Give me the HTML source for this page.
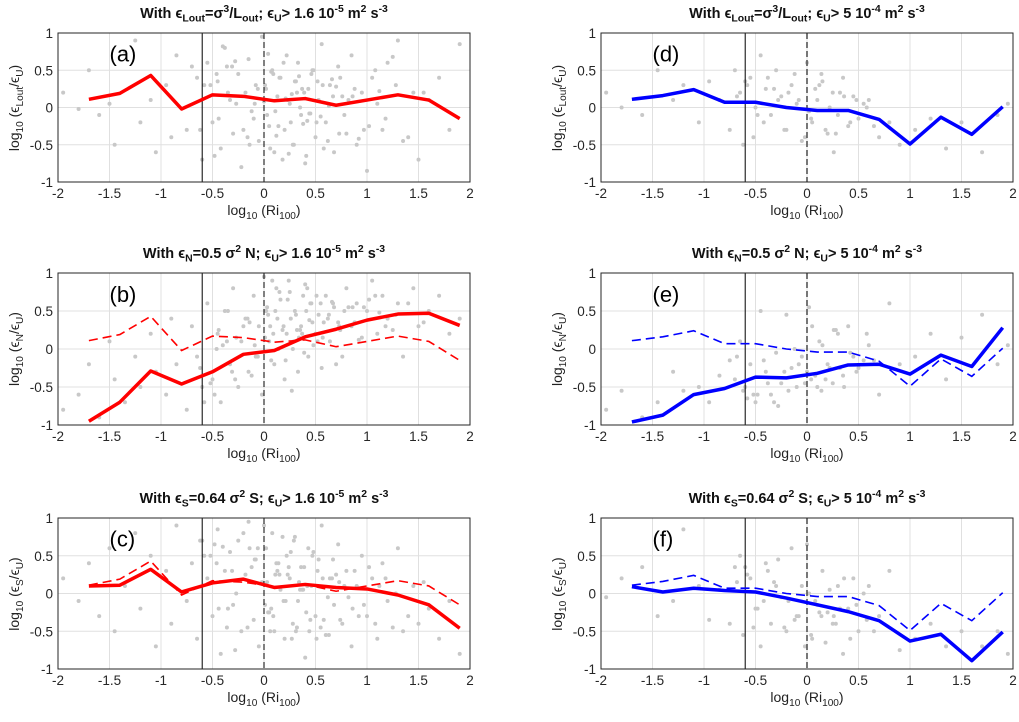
<!DOCTYPE html>
<html><head><meta charset="utf-8">
<style>
body{margin:0;background:#fff;font-family:"Liberation Sans",Arial,sans-serif;}
#wrap{position:relative;width:1019px;height:722px;overflow:hidden;}
svg{position:absolute;left:0;top:0;}
.t{position:absolute;font-weight:bold;font-size:14.5px;white-space:nowrap;transform:translateX(-50%);color:#111;}
.xl{position:absolute;font-size:14px;white-space:nowrap;transform:translateX(-50%);color:#222;}
.yl{position:absolute;font-size:14px;white-space:nowrap;transform:translate(-50%,-50%) rotate(-90deg);color:#222;}
sub,sup{font-size:72%;}
</style></head><body>
<div id="wrap">
<svg id="svg" width="1019" height="722"></svg>
</div>
<script>
const binsX=[-1.7,-1.4,-1.1,-0.8,-0.5,-0.2,0.1,0.4,0.7,1.0,1.3,1.6,1.9];
const serA=[0.11,0.19,0.43,-0.02,0.17,0.15,0.09,0.12,0.03,0.10,0.17,0.10,-0.15];
const serB=[-0.95,-0.70,-0.29,-0.46,-0.30,-0.07,-0.02,0.16,0.26,0.38,0.46,0.47,0.31];
const serC=[0.10,0.11,0.32,0.02,0.14,0.19,0.08,0.12,0.08,0.06,-0.02,-0.15,-0.46];
const serD=[0.11,0.16,0.24,0.07,0.07,0.00,-0.04,-0.04,-0.16,-0.49,-0.13,-0.36,0.01];
const serE=[-0.96,-0.87,-0.60,-0.52,-0.37,-0.38,-0.32,-0.21,-0.20,-0.33,-0.08,-0.23,0.28];
const serF=[0.09,0.02,0.07,0.04,0.02,-0.06,-0.15,-0.24,-0.36,-0.63,-0.54,-0.89,-0.51];
const xTicks=[-2,-1.5,-1,-0.5,0,0.5,1,1.5,2];
const xTickLabels=["-2","-1.5","-1","-0.5","0","0.5","1","1.5","2"];
const yTicks=[-1,-0.5,0,0.5,1];
const yTickLabels=["-1","-0.5","0","0.5","1"];
const scatLX=[-1.95,-1.8,-1.7,-1.6,-1.5,-1.45,-1.35,-1.25,-1.2,-1.1,-1.05,-0.95,-0.9,-0.85,-0.75,-0.7,-0.65,-0.6,-0.55,-0.5,-0.45,-0.42,-0.38,-0.33,-0.3,-0.25,-0.22,-0.18,-0.15,-0.1,-0.08,-0.05,-0.02,0.02,0.05,0.08,0.1,0.13,0.16,0.2,0.22,0.25,0.28,0.3,0.33,0.36,0.4,0.43,0.46,0.5,0.53,0.56,0.6,0.64,0.68,0.72,0.76,0.8,0.85,0.9,0.95,1.0,1.05,1.1,1.15,1.2,1.3,1.35,1.45,1.5,1.6,1.7,1.8,1.9,-0.48,-0.36,-0.12,0.04,0.18,0.27,0.38,0.48,0.58,0.7,0.82,-0.28,0.12,0.34,0.55,-0.58,-0.2,0.07,0.24,0.44,0.66,0.92,1.12,1.25,-0.4,0.0,
-0.52,-0.44,-0.31,-0.27,-0.16,-0.06,0.03,0.09,0.14,0.19,0.23,0.29,0.31,0.35,0.39,0.41,0.47,0.51,0.57,0.62,0.67,0.74,0.78,0.88,0.97,1.08,1.18,1.28,1.4,1.55,-0.62,-0.35,-0.09,0.06,0.15,0.21,0.26,0.37,0.45,0.52,0.63,0.73,0.86,1.02,-0.46,-0.14,0.01,0.11,0.32,0.42];
const scatA=[0.2,-0.02,0.5,-0.1,0.05,-0.5,0.75,0.9,-0.2,0.1,-0.6,0.3,-0.4,0.7,-0.3,0.55,0.4,-0.7,0.6,-0.2,0.35,-0.55,0.8,0.1,-0.35,0.45,-0.8,0.2,0.65,-0.15,0.3,-0.45,0.95,0.25,-0.25,0.5,-0.6,0.15,0.4,-0.3,0.7,0.05,-0.5,0.35,0.6,-0.1,-0.75,0.25,0.45,-0.4,0.1,0.85,-0.2,0.3,-0.6,0.55,0.15,-0.35,0.7,-0.5,0.2,-0.85,0.4,0.05,-0.3,0.6,0.9,-0.45,0.2,-0.7,0.1,0.4,-0.3,0.85,-0.65,0.55,-0.05,0.72,-0.7,0.18,-0.22,0.5,-0.55,0.28,0.1,0.62,-0.38,0.42,-0.12,0.3,-0.3,0.48,-0.62,-0.08,0.38,-0.42,0.22,0.68,0.82,0.08,
0.3,-0.15,0.55,0.05,-0.4,0.25,-0.1,0.45,-0.25,0.6,0.1,-0.5,0.35,0.0,0.2,-0.65,0.5,-0.2,0.3,-0.45,0.15,0.4,-0.1,0.25,-0.3,0.5,-0.15,0.3,-0.4,0.2,-0.3,0.2,0.05,-0.55,0.4,0.12,-0.2,0.25,-0.08,0.35,0.02,-0.35,0.15,-0.25,0.45,-0.5,0.3,-0.05,0.2,-0.18];
const scatB=[-0.8,-0.6,-0.2,-0.9,0.1,-0.4,-0.7,-0.1,-0.5,0.2,-0.3,-0.6,0.4,-0.2,-0.8,0.3,-0.1,-0.5,0.6,-0.4,0.2,-0.7,0.5,-0.2,0.8,-0.5,0.1,0.4,-0.3,0.7,-0.1,0.3,-0.6,0.5,0.1,0.9,-0.2,0.4,0.65,-0.4,0.2,0.75,0.0,0.5,-0.3,0.3,0.85,-0.1,0.6,0.2,0.45,-0.25,0.7,0.1,0.55,0.35,-0.1,0.8,0.3,0.6,0.15,0.5,0.9,0.2,0.7,0.4,0.6,-0.1,0.8,0.3,0.5,0.7,0.2,0.4,-0.6,0.1,-0.35,0.45,0.25,-0.55,0.7,0.05,0.35,-0.2,0.55,-0.4,0.8,0.15,0.6,-0.7,0.3,-0.15,0.9,0.38,0.62,0.12,0.48,0.25,0.05,0.95,
-0.45,0.25,-0.3,0.15,0.4,-0.1,0.55,0.2,0.0,0.3,0.65,0.1,0.45,0.25,-0.05,0.5,0.35,0.7,0.15,0.4,0.6,0.25,0.5,0.35,0.55,0.7,0.3,0.45,0.6,0.35,-0.25,0.5,0.05,0.3,0.75,-0.15,0.4,0.2,0.6,0.1,0.45,0.3,0.55,0.65,0.0,0.35,0.15,0.5,0.25,0.8];
const scatC=[0.2,-0.1,0.4,-0.3,0.6,-0.5,0.1,0.8,-0.2,0.5,-0.7,0.3,-0.4,0.9,-0.1,0.4,-0.6,0.7,0.2,-0.3,0.85,-0.8,0.3,0.55,-0.15,0.7,-0.5,0.25,0.95,-0.35,0.45,-0.7,0.15,0.6,-0.25,0.8,-0.5,0.3,0.05,-0.6,0.5,0.2,-0.4,0.75,-0.1,0.35,-0.85,0.6,0.1,-0.3,0.45,0.9,-0.55,0.2,-0.15,0.65,-0.4,0.3,-0.7,0.1,0.5,-0.3,0.2,-0.6,0.4,-0.1,0.6,-0.5,0.1,-0.4,-0.2,-0.6,-0.1,-0.8,0.65,-0.45,0.35,-0.25,0.75,-0.6,0.05,0.55,-0.35,0.25,-0.05,-0.75,0.4,0.15,-0.45,0.5,0.8,-0.2,0.35,-0.5,0.2,-0.3,0.1,-0.45,0.62,0.9,
0.5,-0.2,0.3,0.0,-0.45,0.6,0.15,-0.3,0.4,-0.1,0.25,0.7,-0.5,0.05,0.35,-0.25,0.5,-0.6,0.2,-0.05,0.45,-0.35,0.1,0.3,-0.15,-0.4,0.2,0.0,-0.3,0.15,0.7,-0.2,0.45,-0.5,0.25,-0.1,0.55,0.05,-0.35,0.3,-0.55,0.15,-0.2,0.35,0.4,0.6,-0.15,0.25,-0.45,0.1];
const scatRX=[-1.95,-1.8,-1.6,-1.45,-1.3,-1.2,-1.05,-0.95,-0.85,-0.75,-0.7,-0.65,-0.62,-0.55,-0.5,-0.45,-0.4,-0.35,-0.3,-0.25,-0.2,-0.15,-0.1,-0.05,0.0,0.05,0.1,0.15,0.2,0.25,0.3,0.35,0.4,0.45,0.5,0.6,0.7,0.8,0.9,1.05,1.2,1.35,1.5,1.7,1.85,1.95,-0.58,-0.42,-0.28,-0.12,0.02,0.18,0.32,-0.68,-0.52,0.08,0.26,0.55,
-0.48,-0.38,-0.22,-0.18,-0.08,0.04,0.12,0.22,0.28,0.36,0.42,0.48,0.58,0.65,-0.6,-0.32,-0.02,0.14];
const scatD=[0.2,0.0,-0.1,0.5,0.1,0.3,-0.2,0.35,0.1,-0.3,0.5,0.2,-0.5,0.4,0.0,0.7,0.25,-0.1,0.5,0.15,-0.3,0.3,0.05,-0.45,0.6,-0.2,0.1,0.35,-0.35,0.2,-0.1,0.4,-0.25,0.15,-0.15,0.1,-0.4,-0.2,-0.5,-0.3,-0.15,-0.55,-0.2,-0.6,-0.1,0.05,0.3,-0.2,0.1,0.45,-0.05,-0.3,0.2,0.15,-0.4,0.25,-0.6,0.05,
-0.1,0.4,-0.3,0.2,0.1,-0.15,0.3,0.0,-0.35,0.15,-0.2,0.1,0.0,-0.25,0.35,0.25,-0.4,0.45];
const scatE=[-0.8,-0.55,-0.9,-0.7,-0.3,-0.55,-0.5,-0.7,-0.35,-0.15,-0.4,0.1,-0.55,-0.2,-0.7,0.5,-0.3,-0.6,-0.05,-0.45,0.45,-0.25,-0.5,-0.1,-0.3,0.3,-0.5,0.05,-0.2,-0.45,0.2,-0.35,0.3,-0.1,-0.25,0.05,-0.6,0.6,-0.2,-0.1,0.2,-0.4,0.15,0.45,-0.2,0.05,-0.65,-0.15,-0.75,0.0,0.55,-0.4,-0.25,-0.1,-0.6,-0.35,0.25,-0.15,
-0.6,-0.45,-0.3,-0.55,-0.2,-0.4,0.1,-0.25,0.25,-0.5,-0.05,-0.3,0.2,-0.15,-0.5,-0.7,-0.45,-0.55];
const scatF=[-0.05,0.2,0.35,-0.3,-0.1,0.85,0.1,-0.35,0.05,-0.4,0.35,0.5,-0.55,0.2,-0.2,-0.7,0.4,-0.4,0.1,-0.05,-0.5,0.6,-0.3,0.1,0.65,-0.6,-0.15,0.3,-0.25,-0.4,0.1,-0.8,-0.2,0.2,-0.5,0.1,-0.3,0.3,-0.75,-0.6,-0.4,-0.7,-0.5,-0.7,-0.5,-0.8,0.25,-0.1,0.45,-0.35,0.0,-0.65,-0.2,0.15,-0.45,-0.1,-0.3,0.0,
-0.2,0.3,-0.45,-0.1,-0.3,-0.55,-0.25,0.05,-0.4,0.2,-0.6,-0.15,-0.35,-0.5,0.35,0.15,-0.7,-0.3];

const svg=document.getElementById('svg');
const NS='http://www.w3.org/2000/svg';
function mk(tag,attrs){const e=document.createElementNS(NS,tag);for(const k in attrs)e.setAttribute(k,attrs[k]);svg.appendChild(e);return e;}
const cols={L:[58,470],R:[601,1013]};
const rows=[[33,182],[273,425],[518,669]];
function sx(c,v){const [a,b]=cols[c];return a+(v+2)/4*(b-a);}
function sy(r,v){const [t,b]=rows[r];return t+(1-v)/2*(b-t);}
const wrap=document.getElementById('wrap');
function html(cls,x,y,h,name){const d=document.createElement('div');d.className=cls;d.style.left=x+'px';d.style.top=y+'px';d.innerHTML=h;


wrap.appendChild(d);return d;}

const panels=[
 {c:'L',r:0,lab:'(a)',col:'#ff0000',sol:serA,dash:null,sxs:scatLX,sys:scatA,dz:'#000',
  title:'With &#1013;<sub>Lout</sub>=&sigma;<sup>3</sup>/L<sub>out</sub>; &#1013;<sub>U</sub>&gt; 1.6 10<sup>-5</sup> m<sup>2</sup> s<sup>-3</sup>',yl:'log<sub>10</sub> (&#1013;<sub>Lout</sub>/&#1013;<sub>U</sub>)'},
 {c:'L',r:1,lab:'(b)',col:'#ff0000',sol:serB,dash:serA,sxs:scatLX,sys:scatB,dz:'#000',
  title:'With &#1013;<sub>N</sub>=0.5 &sigma;<sup>2</sup> N; &#1013;<sub>U</sub>&gt; 1.6 10<sup>-5</sup> m<sup>2</sup> s<sup>-3</sup>',yl:'log<sub>10</sub> (&#1013;<sub>N</sub>/&#1013;<sub>U</sub>)'},
 {c:'L',r:2,lab:'(c)',col:'#ff0000',sol:serC,dash:serA,sxs:scatLX,sys:scatC,dz:'#000',
  title:'With &#1013;<sub>S</sub>=0.64 &sigma;<sup>2</sup> S; &#1013;<sub>U</sub>&gt; 1.6 10<sup>-5</sup> m<sup>2</sup> s<sup>-3</sup>',yl:'log<sub>10</sub> (&#1013;<sub>S</sub>/&#1013;<sub>U</sub>)'},
 {c:'R',r:0,lab:'(d)',col:'#0000ff',sol:serD,dash:null,sxs:scatRX,sys:scatD,dz:'#555',
  title:'With &#1013;<sub>Lout</sub>=&sigma;<sup>3</sup>/L<sub>out</sub>; &#1013;<sub>U</sub>&gt; 5 10<sup>-4</sup> m<sup>2</sup> s<sup>-3</sup>',yl:'log<sub>10</sub> (&#1013;<sub>Lout</sub>/&#1013;<sub>U</sub>)'},
 {c:'R',r:1,lab:'(e)',col:'#0000ff',sol:serE,dash:serD,sxs:scatRX,sys:scatE,dz:'#555',
  title:'With &#1013;<sub>N</sub>=0.5 &sigma;<sup>2</sup> N; &#1013;<sub>U</sub>&gt; 5 10<sup>-4</sup> m<sup>2</sup> s<sup>-3</sup>',yl:'log<sub>10</sub> (&#1013;<sub>N</sub>/&#1013;<sub>U</sub>)'},
 {c:'R',r:2,lab:'(f)',col:'#0000ff',sol:serF,dash:serD,sxs:scatRX,sys:scatF,dz:'#555',
  title:'With &#1013;<sub>S</sub>=0.64 &sigma;<sup>2</sup> S; &#1013;<sub>U</sub>&gt; 5 10<sup>-4</sup> m<sup>2</sup> s<sup>-3</sup>',yl:'log<sub>10</sub> (&#1013;<sub>S</sub>/&#1013;<sub>U</sub>)'}
];
panels.forEach((p,i)=>{
 const [x0,x1]=cols[p.c];const [t,b]=rows[p.r];
 const bg=mk('rect',{x:x0,y:t,width:x1-x0,height:b-t,fill:'#fff'});
 
 
 xTicks.forEach(v=>{const g=mk('line',{x1:sx(p.c,v),x2:sx(p.c,v),y1:t,y2:b,stroke:'#e0e0e0','stroke-width':1});
  
  });
 yTicks.forEach(v=>{const g=mk('line',{x1:x0,x2:x1,y1:sy(p.r,v),y2:sy(p.r,v),stroke:'#e0e0e0','stroke-width':1});
  
  });
 p.sxs.forEach((xv,k)=>{const yv=p.sys[k];if(yv===undefined)return;
  const d=mk('circle',{cx:sx(p.c,xv),cy:sy(p.r,yv),r:2,fill:'#c8c8c8'});
  
  });
 const v1=mk('line',{x1:sx(p.c,-0.6),x2:sx(p.c,-0.6),y1:t,y2:b,stroke:'#000','stroke-width':1});
 
 
 const v2=mk('line',{x1:sx(p.c,0),x2:sx(p.c,0),y1:t,y2:b,stroke:p.dz,'stroke-width':p.c==='R'?1.6:1,'stroke-dasharray':'6,3'});
 
 
 if(p.dash){const pl=mk('polyline',{points:binsX.map((x,k)=>sx(p.c,x)+','+sy(p.r,p.dash[k])).join(' '),fill:'none',stroke:p.col,'stroke-width':1.6,'stroke-dasharray':'9,5'});
  
  }
 const sl=mk('polyline',{points:binsX.map((x,k)=>sx(p.c,x)+','+sy(p.r,p.sol[k])).join(' '),fill:'none',stroke:p.col,'stroke-width':3.5,'stroke-linejoin':'round'});
 
 
 const fr=mk('rect',{x:x0,y:t,width:x1-x0,height:b-t,fill:'none',stroke:'#262626','stroke-width':1});
 
 
 xTicks.forEach((v,k)=>{const tx=mk('text',{x:sx(p.c,v),y:b+16,'text-anchor':'middle','font-size':13.5,fill:'#262626','font-family':'Liberation Sans, sans-serif'});
  tx.textContent=xTickLabels[k];
  
  });
 yTicks.forEach((v,k)=>{const tx=mk('text',{x:x0-5,y:sy(p.r,v)+5,'text-anchor':'end','font-size':13.5,fill:'#262626','font-family':'Liberation Sans, sans-serif'});
  tx.textContent=yTickLabels[k];
  
  });
 const lb=mk('text',{x:sx(p.c,-1.5),y:sy(p.r,0.62),'font-size':22,fill:'#000','font-family':'Liberation Sans, sans-serif'});
 lb.textContent=p.lab;
 
 
 html('t',(x0+x1)/2,t-29,p.title,'panel-title');
 html('xl',(x0+x1)/2,b+20,'log<sub>10</sub> (Ri<sub>100</sub>)','x-axis-title');
 html('yl',x0-42,(t+b)/2,p.yl,'y-axis-title');
});
</script>
</body></html>
